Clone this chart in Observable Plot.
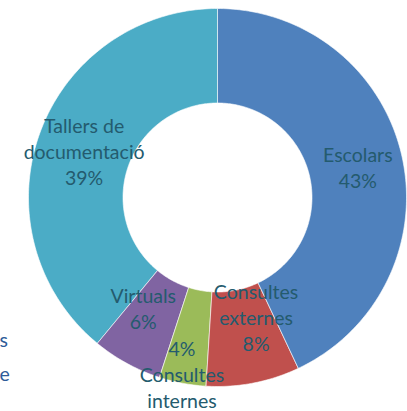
<!DOCTYPE html>
<html><head><meta charset="utf-8">
<script src="https://cdn.jsdelivr.net/npm/d3@7"></script>
<script src="https://cdn.jsdelivr.net/npm/@observablehq/plot@0.6"></script>
<style>body{margin:0;background:#fff;overflow:hidden}</style>
</head><body><div id="chart"></div>
<script>
const categories = ["Escolars","Consultes externes","Consultes internes","Virtuals","Tallers de documentació"];
const values = [43, 8, 4, 6, 39];
const colors = ["#4F81BD","#C0504D","#9BBB59","#8064A2","#4BACC6"];
const nameLines = [["Escolars"],["Consultes","externes"],["Consultes","internes"],["Virtuals"],["Tallers de","documentació"]];
const legendFragments = ["s","e"];

const W = 407, H = 411, R = 189, cx = 217, cy = 197, innerRatio = 0.5;
const total = d3.sum(values);
const arcs = d3.pie().sort(null).value(d => d)(values);

const pts = [];
arcs.forEach((a, i) => {
  const n = Math.max(8, Math.ceil((a.endAngle - a.startAngle) * 60));
  for (let k = 0; k <= n; k++) {
    const t = a.startAngle + (a.endAngle - a.startAngle) * k / n;
    pts.push({cat: categories[i], color: colors[i], u: Math.sin(t), v: Math.cos(t)});
  }
  for (let k = n; k >= 0; k--) {
    const t = a.startAngle + (a.endAngle - a.startAngle) * k / n;
    pts.push({cat: categories[i], color: colors[i], u: innerRatio * Math.sin(t), v: innerRatio * Math.cos(t)});
  }
});

// label placement tweaks (pixels) mimicking Excel's collision avoidance
const nudge = {"Consultes externes": [12, -20], "Consultes internes": [-9, 37], "Virtuals": [-6, -14], "Tallers de documentació": [0, 1], "Escolars": [2, 0]};
const labels = arcs.map((a, i) => {
  const mid = (a.startAngle + a.endAngle) / 2, r = 0.75;
  const pct = Math.round(values[i] / total * 100) + "%";
  const lines = categories[i] === "Consultes internes" ? [pct, ...nameLines[i]] : [...nameLines[i], pct];
  const [dx, dy] = nudge[categories[i]] || [0, 0];
  return {u: r * Math.sin(mid) + dx / R, v: r * Math.cos(mid) - dy / R, text: lines.join("\n")};
});

const chart = Plot.plot({
  width: W, height: H, margin: 0,
  x: {domain: [-cx / R, (W - cx) / R], range: [0, W], axis: null},
  y: {domain: [-(H - cy) / R, cy / R], range: [H, 0], axis: null},
  color: {type: "identity"},
  style: {background: "white"},
  marks: [
    Plot.line(pts, {x: "u", y: "v", z: "cat", fill: "color", stroke: "white", strokeWidth: 0.6, curve: "linear-closed"}),
    Plot.text(labels, {x: "u", y: "v", text: "text", fontFamily: "Lato", fontSize: 19.5, lineHeight: 1.35, fill: "#245B6E"}),
    Plot.text(legendFragments, {text: d => d, dx: -1, fontFamily: "Lato", fontSize: 19.5, fill: "#2E5C99", textAnchor: "start",
      y: (d, i) => (cy - 340 - i * 34) / R, x: () => -cx / R})
  ]
});
document.getElementById("chart").appendChild(chart);
</script></body></html>
